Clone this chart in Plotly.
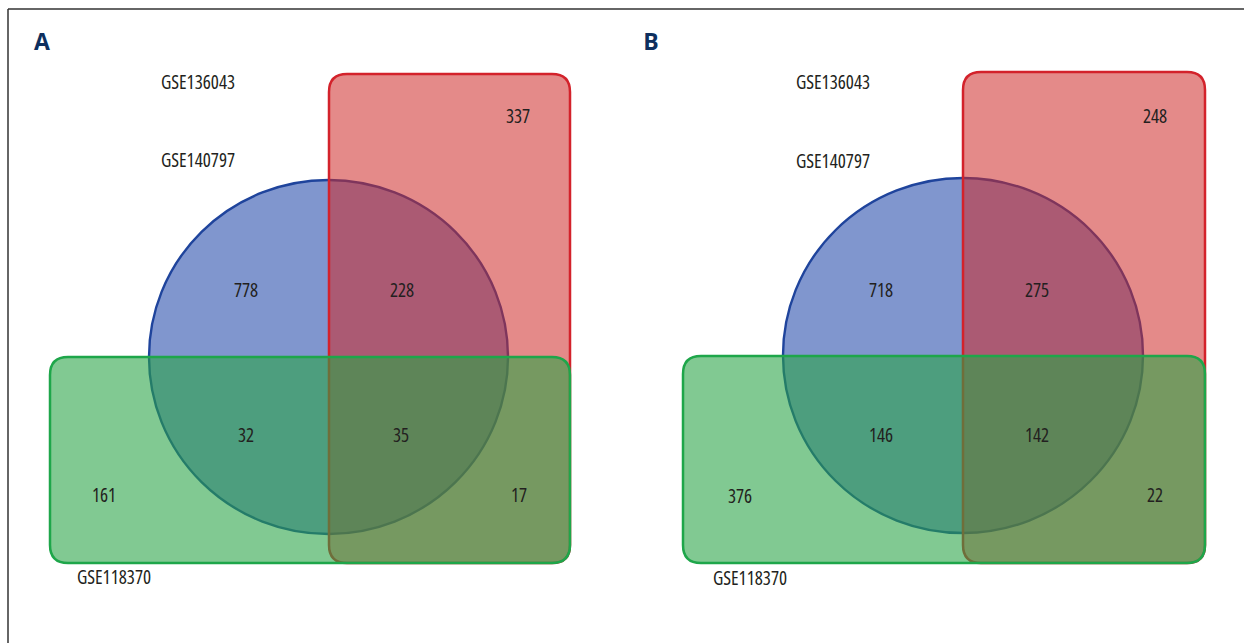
import plotly.graph_objects as go

# Set names and region counts for the two three-way comparisons
set_names = ["GSE136043", "GSE140797", "GSE118370"]
panel_tags = ["A", "B"]
# order: red only, blue only, blue&red, blue&green, all three, green only, red&green
counts_a = [337, 778, 228, 32, 35, 161, 17]
counts_b = [248, 718, 275, 146, 142, 376, 22]

W, H = 1244, 643

# geometry of each panel in page pixels
panels = [
    dict(red=(329, 74, 570, 563), circ=(149, 180, 508, 534), green=(50, 357, 570, 563),
         regions=[(518, 118), (246, 292), (402, 292), (246, 437), (401, 437), (104, 497), (519, 497)],
         names=[(198, 84), (198, 162), (114, 579)], tag=(42, 44)),
    dict(red=(963, 72, 1205, 563), circ=(783, 178, 1143, 533), green=(683, 356, 1205, 563),
         regions=[(1155, 118), (881, 292), (1037, 292), (881, 437), (1037, 437), (740, 498), (1155, 497)],
         names=[(833, 84), (833, 163), (750, 580)], tag=(651, 44)),
]

BLUE_FILL = "rgba(24,64,166,0.55)"
BLUE_LINE = "#1f449c"
RED_FILL = "rgba(206,42,40,0.55)"
RED_LINE = "#d3222b"
GREEN_FILL = "rgba(41,163,70,0.59)"
GREEN_LINE = "#1ea64a"

TEXT_FONT = "Open Sans, Roboto, sans-serif"
TEXT_COLOR = "#231f20"


def rounded_rect(x0, y0, x1, y1, r):
    return (f"M {x0 + r},{y0} L {x1 - r},{y0} Q {x1},{y0} {x1},{y0 + r} "
            f"L {x1},{y1 - r} Q {x1},{y1} {x1 - r},{y1} L {x0 + r},{y1} "
            f"Q {x0},{y1} {x0},{y1 - r} L {x0},{y0 + r} Q {x0},{y0} {x0 + r},{y0} Z")


fig = go.Figure()
shapes = []

# outer frame: top and left rules
shapes.append(dict(type="line", x0=8, y0=9, x1=W, y1=9, line=dict(color="#333333", width=1.5), layer="below"))
shapes.append(dict(type="line", x0=8, y0=9, x1=8, y1=H, line=dict(color="#333333", width=1.5), layer="below"))

for p, counts, tag in zip(panels, [counts_a, counts_b], panel_tags):
    cx0, cy0, cx1, cy1 = p["circ"]
    shapes.append(dict(type="circle", x0=cx0, y0=cy0, x1=cx1, y1=cy1,
                       fillcolor=BLUE_FILL, line=dict(color=BLUE_LINE, width=2.4), layer="below"))
    shapes.append(dict(type="path", path=rounded_rect(*p["red"], 18),
                       fillcolor=RED_FILL, line=dict(color=RED_LINE, width=2.5), layer="below"))
    shapes.append(dict(type="path", path=rounded_rect(*p["green"], 18),
                       fillcolor=GREEN_FILL, line=dict(color=GREEN_LINE, width=2.5), layer="below"))

    fig.add_trace(go.Scatter(
        x=[xy[0] for xy in p["regions"]], y=[xy[1] for xy in p["regions"]],
        text=[str(c) for c in counts], mode="text", textposition="middle center",
        textfont=dict(family=TEXT_FONT, size=19, color=TEXT_COLOR),
        hoverinfo="skip", showlegend=False))
    fig.add_trace(go.Scatter(
        x=[xy[0] for xy in p["names"]], y=[xy[1] for xy in p["names"]],
        text=set_names, mode="text", textposition="middle center",
        textfont=dict(family=TEXT_FONT, size=19, color=TEXT_COLOR),
        hoverinfo="skip", showlegend=False))
    fig.add_trace(go.Scatter(
        x=[p["tag"][0]], y=[p["tag"][1]], text=[f"<b>{tag}</b>"], mode="text",
        textposition="middle center",
        textfont=dict(family="Open Sans, Noto Sans, sans-serif", size=23, color="#0e2f5e"),
        hoverinfo="skip", showlegend=False))

fig.update_layout(
    width=W, height=H, margin=dict(l=0, r=0, t=0, b=0),
    paper_bgcolor="white", plot_bgcolor="white",
    xaxis=dict(range=[0, W], visible=False, fixedrange=True),
    yaxis=dict(range=[H, 0], visible=False, fixedrange=True),
    shapes=shapes,
)

# condensed face for the set names and counts (tag letters keep normal width)
condense_js = """
var gd = document.getElementsByClassName('plotly-graph-div')[0];
var traces = gd.querySelectorAll('.scatterlayer .trace');
for (var i = 0; i < traces.length; i++) {
  if (i % 3 == 2) continue;
  var t = traces[i].querySelectorAll('.textpoint text');
  for (var j = 0; j < t.length; j++) { t[j].style.fontStretch = 'condensed'; }
}
"""
fig.write_html("out.html", post_script=condense_js)
